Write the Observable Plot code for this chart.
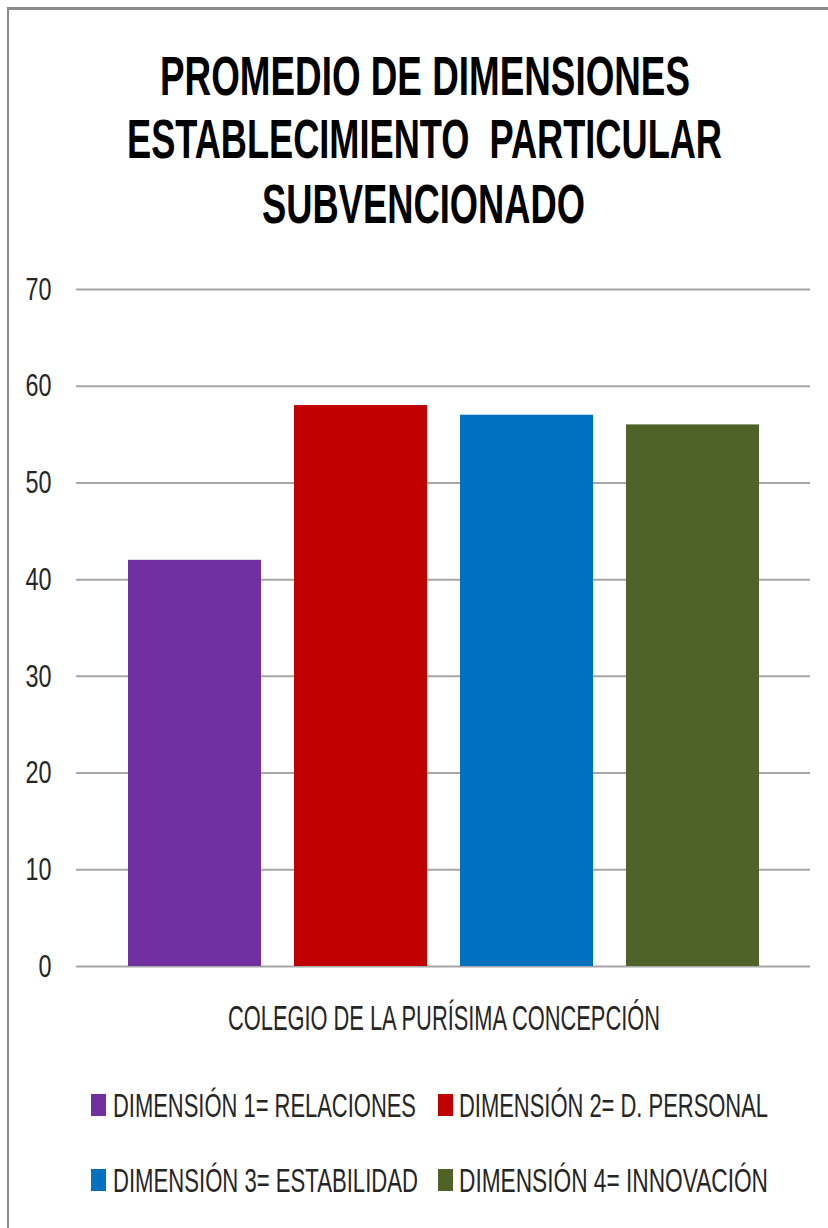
<!DOCTYPE html>
<html>
<head>
<meta charset="utf-8">
<script src="https://cdn.jsdelivr.net/npm/d3@7"></script>
<script src="https://cdn.jsdelivr.net/npm/@observablehq/plot@0.6"></script>
<style>
  html, body { margin: 0; padding: 0; background: #fff; width: 828px; height: 1228px; overflow: hidden; }
  body { position: relative; font-family: "Liberation Sans", Arial, sans-serif; }
  .frame { position: absolute; left: 7px; top: 7px; width: 840px; height: 1240px; border-left: 2px solid #8c8c8c; border-top: 3px solid #8c8c8c; box-sizing: border-box; }
  .t { position: absolute; white-space: pre; line-height: 1; transform-origin: 0 0; }
  .sw { position: absolute; width: 15px; height: 22px; }
  #chart { position: absolute; left: 0; top: 260px; }
</style>
</head>
<body>
<div class="frame"></div>
<div id="chart"></div>
<script>
const titleLines = ["PROMEDIO DE DIMENSIONES", "ESTABLECIMIENTO  PARTICULAR", "SUBVENCIONADO"];
const xLabel = "COLEGIO DE LA PURÍSIMA CONCEPCIÓN";
const categories = ["DIMENSIÓN 1= RELACIONES", "DIMENSIÓN 2= D. PERSONAL", "DIMENSIÓN 3= ESTABILIDAD", "DIMENSIÓN 4= INNOVACIÓN"];
const values = [42, 58, 57, 56];
const yTicks = [0, 10, 20, 30, 40, 50, 60, 70];
const palette = ["#7030A0", "#C00000", "#0070C0", "#4F6228"];

const data = categories.map((c, i) => ({cat: c, value: values[i]}));

const chart = Plot.plot({
  width: 828,
  height: 730,
  marginTop: 29,
  marginBottom: 24,
  marginLeft: 76,
  marginRight: 18,
  style: {fontFamily: '"Liberation Sans", Arial, sans-serif', fontSize: "32px", color: "#262626", background: "transparent"},
  x: {domain: categories, paddingInner: 0.2, paddingOuter: 0.31, axis: null},
  y: {domain: [0, 70], ticks: yTicks, tickSize: 0, tickPadding: 25, label: null, tickFormat: d => String(d)},
  color: {domain: categories, range: palette},
  marks: [
    Plot.ruleY(yTicks, {stroke: "#a6a6a6", strokeWidth: 2}),
    Plot.barY(data, {x: "cat", y: "value", fill: "cat"})
  ]
});
document.getElementById("chart").appendChild(chart);

// condense the tick labels to match the narrow face of the original
chart.querySelectorAll("[aria-label='y-axis tick label'] text").forEach(t => {
  const w = t.getComputedTextLength();
  t.setAttribute("textLength", (w * 0.73).toFixed(1));
  t.setAttribute("lengthAdjust", "spacingAndGlyphs");
});

function addText(str, {left, top, size, weight = "normal", width, color = "#262626"}) {
  const el = document.createElement("div");
  el.className = "t";
  el.textContent = str;
  el.style.left = left + "px";
  el.style.top = top + "px";
  el.style.fontSize = size + "px";
  el.style.fontWeight = weight;
  el.style.color = color;
  document.body.appendChild(el);
  const w = el.getBoundingClientRect().width;
  el.style.transform = `scaleX(${width / w})`;
  return el;
}

// Title
const titleBoxes = [[160, 48, 530], [127, 111, 595], [262, 176, 323]];
titleLines.forEach((s, i) => {
  const [l, t, w] = titleBoxes[i];
  addText(s, {left: l, top: t, size: 56, weight: "bold", width: w, color: "#000"});
});

// X label
addText(xLabel, {left: 228, top: 1000, size: 35, width: 432});

// Legend
const legendPos = [[91, 113, 1093, 303], [438, 459, 1093, 309], [91, 113, 1168, 305], [438, 459, 1168, 309]];
categories.forEach((c, i) => {
  const [sx, tx, capTop, w] = legendPos[i];
  const sw = document.createElement("div");
  sw.className = "sw";
  sw.style.left = sx + "px";
  sw.style.top = (capTop + 1) + "px";
  sw.style.background = palette[i];
  document.body.appendChild(sw);
  addText(c, {left: tx, top: capTop - 4, size: 33, width: w});
});
</script>
</body>
</html>
